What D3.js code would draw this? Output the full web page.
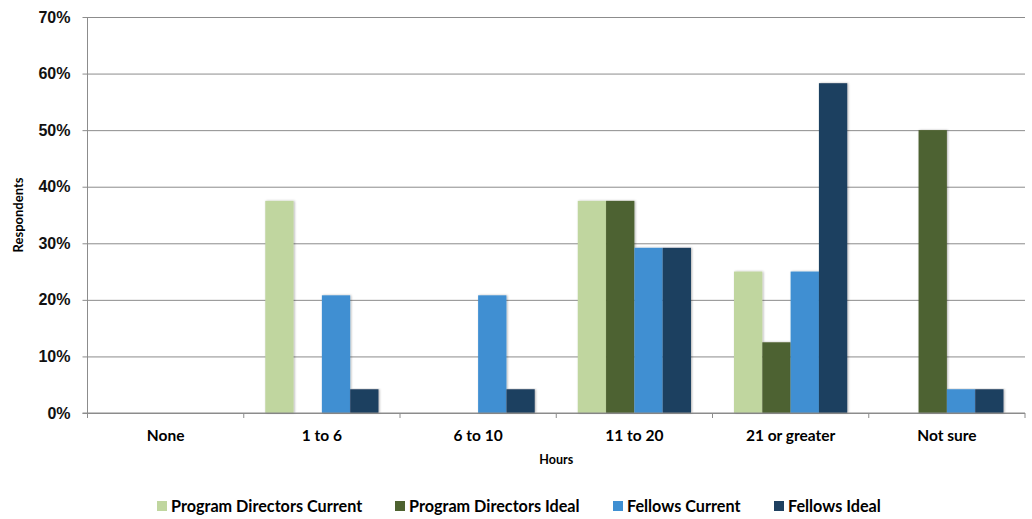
<!DOCTYPE html>
<html>
<head>
<meta charset="utf-8">
<script src="https://cdn.jsdelivr.net/npm/d3@7"></script>
<style>
  html, body { margin: 0; padding: 0; background: #fff; }
  svg { display: block; }
</style>
</head>
<body>
<svg id="chart" width="1032" height="519"></svg>
<script>
// Weekly hours: share of respondents by group
const categories = ["None", "1 to 6", "6 to 10", "11 to 20", "21 or greater", "Not sure"];
const seriesNames = ["Program Directors Current", "Program Directors Ideal", "Fellows Current", "Fellows Ideal"];
const pdCurrent = [0, 37.5, 0, 37.5, 25, 0];
const pdIdeal = [0, 0, 0, 37.5, 12.5, 50];
const fellowsCurrent = [0, 20.8, 20.8, 29.2, 25, 4.2];
const fellowsIdeal = [0, 4.2, 4.2, 29.2, 58.3, 4.2];
const yTicks = [0, 10, 20, 30, 40, 50, 60, 70];

const seriesValues = [pdCurrent, pdIdeal, fellowsCurrent, fellowsIdeal];
const colors = ["#c0d69f", "#4e6230", "#3f8fd2", "#1f4060"];

const svg = d3.select("#chart");
const plotLeft = 87.5, plotRight = 1025, plotTop = 17, plotBottom = 413;

const x = d3.scaleBand().domain(categories).range([plotLeft, plotRight]).padding(0);
const xs = d3.scaleBand().domain(seriesNames).range([0, x.bandwidth()])
  .paddingInner(0).paddingOuter(0.76);
const y = d3.scaleLinear().domain([0, 70]).range([plotBottom, plotTop]);

const defs = svg.append("defs");
const f = defs.append("filter").attr("id", "shadow")
  .attr("x", "-20%").attr("y", "-5%").attr("width", "140%").attr("height", "110%");
f.append("feDropShadow").attr("dx", 1).attr("dy", 0).attr("stdDeviation", 0.8)
  .attr("flood-color", "#000").attr("flood-opacity", 0.3);

// Horizontal gridlines with ticks on the left
const yAxis = svg.append("g")
  .attr("transform", `translate(${plotLeft},0)`)
  .call(d3.axisLeft(y).tickValues(yTicks).tickFormat(d => d + "%")
    .tickSize(5).tickPadding(12));
yAxis.select(".domain").remove();
yAxis.selectAll(".tick line").attr("stroke", "#8c8c8c");
yAxis.selectAll(".tick").append("line")
  .attr("x1", 0).attr("x2", plotRight - plotLeft)
  .attr("stroke", "#8c8c8c").attr("stroke-width", 1);
yAxis.selectAll(".tick text")
  .attr("font-family", "'Liberation Sans', Arial, sans-serif")
  .attr("font-weight", "bold").attr("font-size", 16).attr("fill", "#111");

// Left axis line
svg.append("line")
  .attr("x1", plotLeft).attr("x2", plotLeft).attr("y1", plotTop).attr("y2", plotBottom)
  .attr("stroke", "#8c8c8c");

// Bars
const groups = svg.append("g").selectAll("g")
  .data(categories).join("g")
  .attr("transform", d => `translate(${x(d)},0)`);
groups.selectAll("rect")
  .data((c, i) => seriesNames.map((s, k) => ({ s, k, v: seriesValues[k][i] })).filter(d => d.v > 0))
  .join("rect")
  .attr("x", d => xs(d.s))
  .attr("width", xs.bandwidth())
  .attr("y", d => y(d.v))
  .attr("height", d => y(0) - y(d.v))
  .attr("fill", d => colors[d.k])
  .attr("filter", "url(#shadow)");

// Bottom axis
const xAxisG = svg.append("g");
xAxisG.append("line")
  .attr("x1", plotLeft - 5).attr("x2", plotRight).attr("y1", plotBottom).attr("y2", plotBottom)
  .attr("stroke", "#8c8c8c");
const bounds = categories.map(c => x(c)).concat([plotRight]);
xAxisG.selectAll("line.tk").data(bounds).join("line")
  .attr("class", "tk")
  .attr("x1", d => d).attr("x2", d => d)
  .attr("y1", plotBottom).attr("y2", plotBottom + 5)
  .attr("stroke", "#8c8c8c");
xAxisG.selectAll("text").data(categories).join("text")
  .attr("x", d => x(d) + x.bandwidth() / 2)
  .attr("y", 441)
  .attr("text-anchor", "middle")
  .attr("font-family", "Lato, 'Open Sans', sans-serif")
  .attr("font-weight", "bold").attr("font-size", 15.5).attr("fill", "#000")
  .text(d => d);

// Axis titles
svg.append("text")
  .attr("x", (plotLeft + plotRight) / 2).attr("y", 464)
  .attr("text-anchor", "middle")
  .attr("font-family", "Lato, 'Open Sans', sans-serif")
  .attr("font-weight", "bold").attr("font-size", 12.5).attr("fill", "#000")
  .text("Hours");
svg.append("text")
  .attr("transform", "translate(23,215) rotate(-90)")
  .attr("text-anchor", "middle")
  .attr("font-family", "Lato, 'Open Sans', sans-serif")
  .attr("font-weight", "bold").attr("font-size", 13).attr("fill", "#000")
  .text("Respondents");

// Legend
const legendX = [157, 395, 613, 774];
const legend = svg.append("g").selectAll("g")
  .data(seriesNames).join("g")
  .attr("transform", (d, i) => `translate(${legendX[i]},501)`);
legend.append("rect")
  .attr("width", 10).attr("height", 10)
  .attr("fill", (d, i) => colors[i]);
legend.append("text")
  .attr("x", 14).attr("y", 10.5)
  .attr("font-family", "Lato, 'Open Sans', sans-serif")
  .attr("font-weight", "bold").attr("font-size", 16.2).attr("fill", "#000")
  .text(d => d);
</script>
</body>
</html>
